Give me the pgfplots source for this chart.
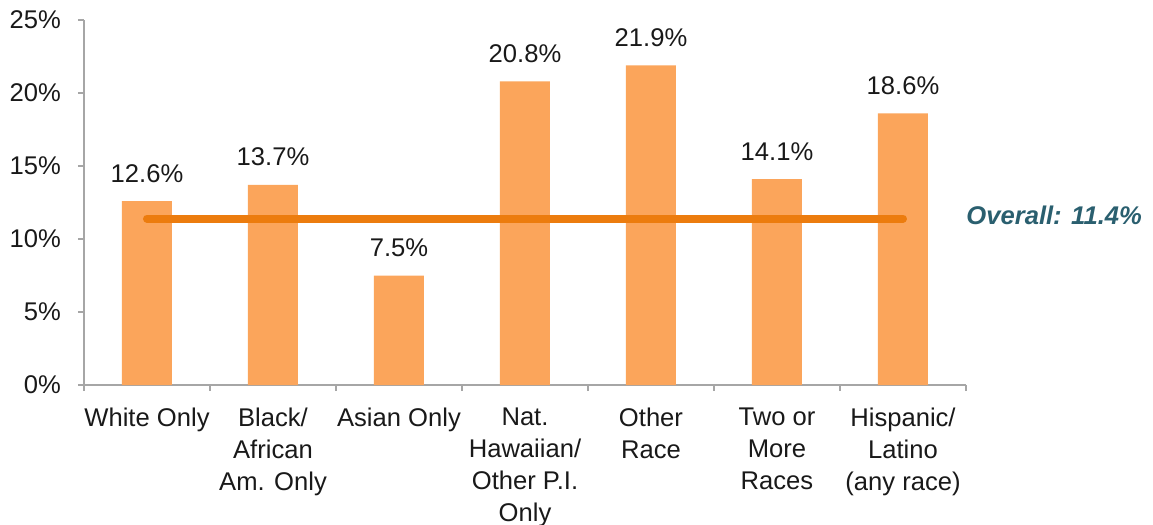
\documentclass[border=0pt]{standalone}
\usepackage{pgfplots}
\pgfplotsset{compat=1.18}
\usepackage{fontspec}
\setmainfont{Liberation Sans}

\definecolor{barorange}{HTML}{FBA55B}
\definecolor{lineorange}{HTML}{EC7C0E}
\definecolor{overallteal}{HTML}{2A5F6F}
\definecolor{axisgray}{HTML}{A6A6A6}

\newcommand{\chartfont}{\fontsize{12.8}{16}\selectfont}

\begin{document}
\begin{tikzpicture}
\path[use as bounding box] (-42pt,-70pt) rectangle (534.5pt,192.5pt);
\begin{axis}[
  at={(0,0)}, anchor=south west,
  scale only axis,
  width=441pt, height=182.5pt,
  xmin=-0.5, xmax=6.5,
  ymin=0, ymax=25,
  enlargelimits=false,
  clip=false,
  axis x line=bottom, axis y line=left,
  axis line style={-, draw=axisgray, line width=0.8pt},
  every tick/.style={draw=axisgray, line width=0.8pt},
  tick align=outside,
  ytick={0,5,10,15,20,25},
  major tick length=3pt,
  minor tick length=3pt,
  xtick={0,1,2,3,4,5,6},
  xtick style={draw=none},
  minor xtick={-0.5,0.5,1.5,2.5,3.5,4.5,5.5,6.5},
  minor x tick style={draw=axisgray, line width=0.8pt},
  xticklabels={{White Only},{Black/\\African\\Am. Only},{Asian Only},{Nat.\\Hawaiian/\\Other P.I.\\Only},{Other\\Race},{Two or\\More\\Races},{Hispanic/\\Latino\\(any race)}},
  xticklabel style={font=\chartfont, align=center, anchor=north, yshift=-5pt, text=black!90},
  yticklabel={\pgfmathprintnumber{\tick}\%},
  yticklabel style={font=\chartfont, xshift=-5pt, text=black!90},
  /pgf/number format/assume math mode=true,
  ybar, bar width=25pt,
  nodes near coords={\pgfmathprintnumber[fixed, fixed zerofill, precision=1]{\pgfplotspointmeta}\%},
  every node near coord/.append style={font=\chartfont, anchor=base, yshift=9.5pt, text=black!90},
]
\addplot[fill=barorange, draw=none] coordinates {
  (0,12.6) (1,13.7) (2,7.5) (3,20.8) (4,21.9) (5,14.1) (6,18.6)
};
% overall average across all groups
\addplot[sharp plot, nodes near coords={}, draw=lineorange, line width=4pt, line cap=round]
  coordinates {(0,11.4) (6,11.4)};
\node[font=\chartfont\bfseries\itshape, text=overallteal] at (axis cs:7.2,11.6) {Overall: 11.4\%};
\end{axis}
\end{tikzpicture}
\end{document}
